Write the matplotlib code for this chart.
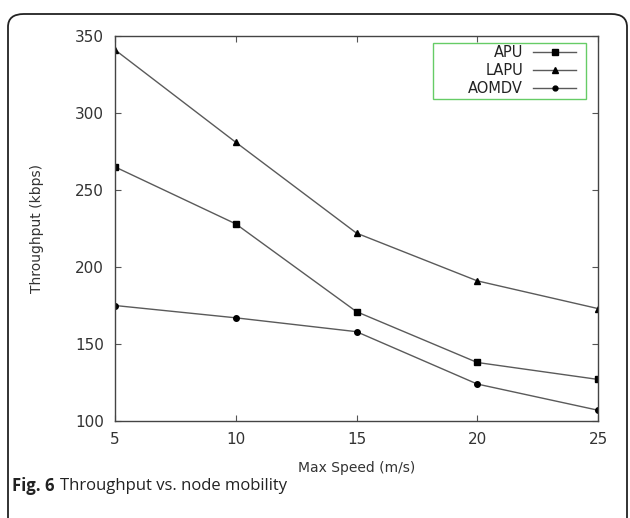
import matplotlib.pyplot as plt
from matplotlib.patches import FancyBboxPatch, Rectangle
from matplotlib.lines import Line2D

speeds = [5, 10, 15, 20, 25]
apu = [265, 228, 171, 138, 127]
lapu = [341, 281, 222, 191, 173]
aomdv = [175, 167, 158, 124, 107]

series = [
    ("APU", apu, "s", 5),
    ("LAPU", lapu, "^", 5),
    ("AOMDV", aomdv, "o", 4),
]

W, H = 630, 518
fig = plt.figure(figsize=(W / 100, H / 100), dpi=100)
ax = fig.add_axes([115 / W, 1 - 421 / H, (598 - 115) / W, (421 - 36) / H])

line_col = "#5a5a5a"
text_col = "#333333"
for name, vals, mk, ms in series:
    ax.plot(speeds, vals, color=line_col, lw=1.0, marker=mk, ms=ms,
            mfc="black", mec="black")

ax.set_xlim(5, 25)
ax.set_ylim(100, 350)
ax.set_xticks(speeds)
ax.set_yticks(range(100, 351, 50))
ax.tick_params(direction="in", top=True, right=True, length=4, width=0.8,
               colors="#555555", labelcolor=text_col, labelsize=11, pad=8)
for s in ax.spines.values():
    s.set_color("#444444")
    s.set_linewidth(1.0)
ax.set_xlabel("Max Speed (m/s)", fontsize=10, color=text_col, labelpad=10)
ax.set_ylabel("Throughput (kbps)", fontsize=10, color=text_col, labelpad=22)

# gnuplot style key: label right-aligned, sample on the right
ax.add_patch(Rectangle((0.658, 0.837), 0.317, 0.146, transform=ax.transAxes,
                       fill=False, ec="#66cc66", lw=1.0, zorder=5))
for i, (name, vals, mk, ms) in enumerate(series):
    yk = 0.958 - i * 0.047
    ax.text(0.845, yk, name, transform=ax.transAxes, ha="right", va="center",
            fontsize=10.5, color="#222222")
    ax.add_line(Line2D([0.865, 0.955], [yk, yk], transform=ax.transAxes,
                       color=line_col, lw=1.0))
    ax.add_line(Line2D([0.91], [yk], transform=ax.transAxes, marker=mk,
                       ms=ms - 0.5, mfc="black", mec="black", ls="none"))

# rounded journal frame, open at the bottom
frame = FancyBboxPatch((8 / W, -0.05), (627 - 8) / W, 1 - 14 / H + 0.05,
                       boxstyle="round,pad=0,rounding_size=0.025",
                       transform=fig.transFigure, fill=False,
                       ec="#222222", lw=1.3)
fig.add_artist(frame)

cap_font = ["Open Sans", "DejaVu Sans"]
t1 = fig.text(12 / W, 1 - 486 / H, "Fig. 6", fontsize=12, fontweight="bold",
              va="center", ha="left", color="#222222", family=cap_font)
fig.canvas.draw()
bb = t1.get_window_extent()
fig.text((bb.x1 + 5) / W, 1 - 486 / H, "Throughput vs. node mobility",
         fontsize=12, va="center", ha="left", color="#222222", family=cap_font)

fig.savefig("out.png", dpi=100)
